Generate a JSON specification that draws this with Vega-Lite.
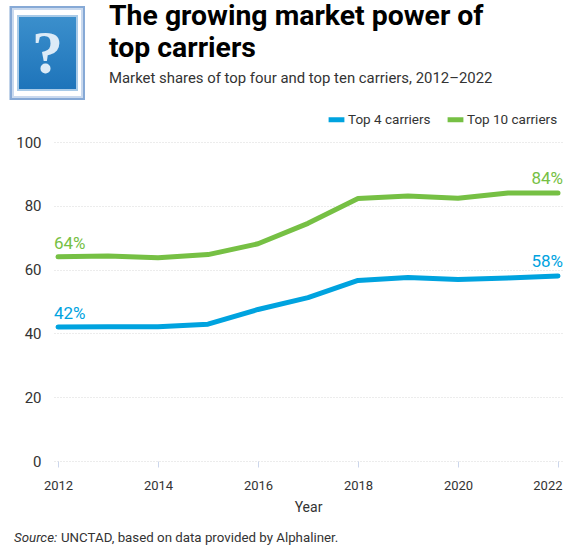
{
  "$schema": "https://vega.github.io/schema/vega-lite/v6.json",
  "width": 508,
  "height": 319,
  "autosize": "none",
  "padding": {"left": 54, "right": 1, "top": 142, "bottom": 87},
  "background": "white",
  "view": {"stroke": null},
  "title": {
    "text": ["The growing market power of", "top carriers"],
    "subtitle": "Market shares of top four and top ten carriers, 2012–2022",
    "anchor": "start",
    "frame": "group",
    "dx": 55,
    "offset": -81,
    "font": "Roboto",
    "fontSize": 28.4,
    "fontWeight": "bold",
    "lineHeight": 32,
    "color": "#000000",
    "subtitleFont": "Roboto",
    "subtitleFontSize": 14.9,
    "subtitleColor": "#333333",
    "subtitlePadding": 8
  },
  "data": {
    "values": [
      {"year": 2012, "series": "Top 4 carriers", "share": 42},
      {"year": 2013, "series": "Top 4 carriers", "share": 42.1},
      {"year": 2014, "series": "Top 4 carriers", "share": 42.1},
      {"year": 2015, "series": "Top 4 carriers", "share": 42.9},
      {"year": 2016, "series": "Top 4 carriers", "share": 47.5},
      {"year": 2017, "series": "Top 4 carriers", "share": 51.2},
      {"year": 2018, "series": "Top 4 carriers", "share": 56.6},
      {"year": 2019, "series": "Top 4 carriers", "share": 57.5},
      {"year": 2020, "series": "Top 4 carriers", "share": 56.9},
      {"year": 2021, "series": "Top 4 carriers", "share": 57.4},
      {"year": 2022, "series": "Top 4 carriers", "share": 58},
      {"year": 2012, "series": "Top 10 carriers", "share": 64},
      {"year": 2013, "series": "Top 10 carriers", "share": 64.3},
      {"year": 2014, "series": "Top 10 carriers", "share": 63.7},
      {"year": 2015, "series": "Top 10 carriers", "share": 64.7},
      {"year": 2016, "series": "Top 10 carriers", "share": 68.1},
      {"year": 2017, "series": "Top 10 carriers", "share": 74.5},
      {"year": 2018, "series": "Top 10 carriers", "share": 82.3},
      {"year": 2019, "series": "Top 10 carriers", "share": 83.1},
      {"year": 2020, "series": "Top 10 carriers", "share": 82.4},
      {"year": 2021, "series": "Top 10 carriers", "share": 84},
      {"year": 2022, "series": "Top 10 carriers", "share": 84}
    ]
  },
  "layer": [
    {
      "mark": {"type": "line", "strokeWidth": 5, "strokeCap": "round", "strokeJoin": "round"},
      "encoding": {
        "x": {
          "field": "year",
          "type": "quantitative",
          "scale": {"domain": [2012, 2022], "padding": 4, "nice": false, "zero": false},
          "axis": {
            "values": [2012, 2014, 2016, 2018, 2020, 2022],
            "format": "d",
            "title": "Year",
            "titleFont": "Roboto",
            "titleFontSize": 14,
            "titleFontWeight": "normal",
            "titleColor": "#333333",
            "titlePadding": 8,
            "labelFont": "Roboto",
            "labelFontSize": 13,
            "labelColor": "#333333",
            "labelPadding": 12,
            "labelFlush": false,
            "labelOverlap": false,
            "labelAlign": {"expr": "datum.value == 2022 ? 'right' : 'center'"},
            "labelOffset": {"expr": "datum.value == 2022 ? 4 : 0"},
            "domain": false,
            "grid": false,
            "tickColor": "#ccd6eb",
            "tickSize": 6
          }
        },
        "y": {
          "field": "share",
          "type": "quantitative",
          "scale": {"domain": [0, 100], "nice": false},
          "axis": {
            "values": [0, 20, 40, 60, 80, 100],
            "title": null,
            "labelFont": "Roboto",
            "labelFontSize": 15,
            "labelColor": "#333333",
            "labelPadding": 13,
            "domain": false,
            "ticks": false,
            "gridColor": "#d9d9d9",
            "gridDash": [1, 2],
            "gridWidth": 1
          }
        },
        "color": {
          "field": "series",
          "type": "nominal",
          "scale": {
            "domain": ["Top 4 carriers", "Top 10 carriers"],
            "range": ["#00a3df", "#76c044"]
          },
          "legend": {
            "title": null,
            "orient": "none",
            "direction": "horizontal",
            "columns": 2,
            "legendX": 272,
            "legendY": -33,
            "symbolType": "stroke",
            "symbolSize": 250,
            "symbolStrokeWidth": 5,
            "labelFont": "Roboto",
            "labelFontSize": 13.5,
            "labelColor": "#333333",
            "labelOffset": 1,
            "columnPadding": 6
          }
        }
      }
    },
    {
      "transform": [
        {"filter": "datum.year == 2012"},
        {"calculate": "datum.share + '%'", "as": "label"}
      ],
      "mark": {"type": "text", "font": "Roboto", "fontSize": 17, "align": "left", "baseline": "bottom", "dx": -4, "dy": -4},
      "encoding": {
        "x": {"field": "year", "type": "quantitative"},
        "y": {"field": "share", "type": "quantitative"},
        "text": {"field": "label"},
        "color": {"field": "series", "type": "nominal", "legend": null}
      }
    },
    {
      "transform": [
        {"filter": "datum.year == 2022"},
        {"calculate": "datum.share + '%'", "as": "label"}
      ],
      "mark": {"type": "text", "font": "Roboto", "fontSize": 17, "align": "right", "baseline": "bottom", "dx": 5, "dy": -5},
      "encoding": {
        "x": {"field": "year", "type": "quantitative"},
        "y": {"field": "share", "type": "quantitative"},
        "text": {"field": "label"},
        "color": {"field": "series", "type": "nominal", "legend": null}
      }
    },
    {
      "data": {"values": [{}]},
      "mark": {"type": "rect", "color": "#86a9d6"},
      "encoding": {
        "x": {"datum": 2011.03},
        "x2": {"datum": 2012.54},
        "y": {"datum": 142.6},
        "y2": {"datum": 113.2}
      }
    },
    {
      "data": {"values": [{}]},
      "mark": {"type": "rect", "color": "#c9d9ee"},
      "encoding": {
        "x": {"datum": 2011.08},
        "x2": {"datum": 2012.5},
        "y": {"datum": 142},
        "y2": {"datum": 113.8}
      }
    },
    {
      "data": {"values": [{}]},
      "mark": {"type": "rect", "color": "#ffffff"},
      "encoding": {
        "x": {"datum": 2011.12},
        "x2": {"datum": 2012.46},
        "y": {"datum": 141.4},
        "y2": {"datum": 114.4}
      }
    },
    {
      "data": {"values": [{}]},
      "mark": {"type": "rect", "color": "#a9cbe8"},
      "encoding": {
        "x": {"datum": 2011.18},
        "x2": {"datum": 2012.4},
        "y": {"datum": 139.8},
        "y2": {"datum": 116}
      }
    },
    {
      "data": {"values": [{}]},
      "mark": {
        "type": "rect",
        "color": {
          "gradient": "linear",
          "x1": 0, "y1": 0, "x2": 0, "y2": 1,
          "stops": [
            {"offset": 0, "color": "#3b8fcc"},
            {"offset": 1, "color": "#1e74ba"}
          ]
        }
      },
      "encoding": {
        "x": {"datum": 2011.22},
        "x2": {"datum": 2012.36},
        "y": {"datum": 139.2},
        "y2": {"datum": 116.6}
      }
    },
    {
      "data": {"values": [{"glyph": "?"}]},
      "mark": {"type": "text", "font": "Liberation Serif", "fontWeight": "bold", "fontSize": 62, "color": "#dcebf7", "baseline": "middle", "align": "center"},
      "encoding": {
        "x": {"datum": 2011.79},
        "y": {"datum": 127.5},
        "text": {"field": "glyph"}
      }
    },
    {
      "data": {"values": [{"part": "Source:"}]},
      "mark": {"type": "text", "font": "Roboto", "fontSize": 13.3, "fontStyle": "italic", "color": "#333333", "align": "left", "baseline": "middle"},
      "encoding": {
        "x": {"datum": 2011.12},
        "y": {"datum": -24},
        "text": {"field": "part"}
      }
    },
    {
      "data": {"values": [{"part": "UNCTAD, based on data provided by Alphaliner."}]},
      "mark": {"type": "text", "font": "Roboto", "fontSize": 13.3, "color": "#333333", "align": "left", "baseline": "middle"},
      "encoding": {
        "x": {"datum": 2012.06},
        "y": {"datum": -24},
        "text": {"field": "part"}
      }
    }
  ]
}
